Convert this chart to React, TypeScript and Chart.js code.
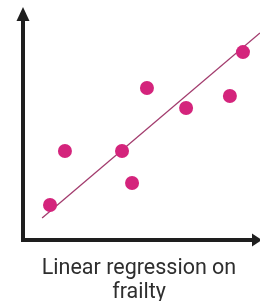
import React, { useEffect, useRef } from "react";
import { Chart, registerables } from "chart.js";

Chart.register(...registerables);

// Observations (frailty score vs outcome)
const xValues = [1.16, 1.8, 4.25, 4.68, 5.32, 7.0, 8.88, 9.44];
const yValues = [1.52, 3.87, 3.87, 2.48, 6.61, 5.74, 6.26, 8.17];

// Fitted regression line end points
const fitX = [0.82, 10.17];
const fitY = [0.96, 9.0];

const titleLines = ["Linear regression on", "frailty"];

const axisColor = "#1e1e1e";
const pointColor = "#d4247c";
const lineColor = "#a23b6d";

const axesPlugin = {
  id: "arrowAxes",
  beforeDatasetsDraw(chart: any) {
    const { ctx } = chart;
    const xs = chart.scales.x;
    const ys = chart.scales.y;
    const x0 = xs.getPixelForValue(xs.min);
    const x1 = xs.getPixelForValue(xs.max);
    const y0 = ys.getPixelForValue(ys.min);
    const y1 = ys.getPixelForValue(ys.max);
    ctx.save();
    ctx.strokeStyle = axisColor;
    ctx.fillStyle = axisColor;
    ctx.lineWidth = 4;
    ctx.lineCap = "butt";
    // y axis
    ctx.beginPath();
    ctx.moveTo(x0, y0 + 2);
    ctx.lineTo(x0, y1 + 10);
    ctx.stroke();
    // x axis
    ctx.beginPath();
    ctx.moveTo(x0 - 2, y0);
    ctx.lineTo(x1 - 2, y0);
    ctx.stroke();
    // y arrow head
    ctx.beginPath();
    ctx.moveTo(x0, y1 - 3);
    ctx.lineTo(x0 - 6.5, y1 + 11);
    ctx.lineTo(x0 + 6.5, y1 + 11);
    ctx.closePath();
    ctx.fill();
    // x arrow head
    ctx.beginPath();
    ctx.moveTo(x1 + 6, y0);
    ctx.lineTo(x1 - 4, y0 - 6.5);
    ctx.lineTo(x1 - 4, y0 + 6.5);
    ctx.closePath();
    ctx.fill();
    ctx.restore();
  },
  afterDraw(chart: any) {
    const { ctx } = chart;
    ctx.save();
    ctx.fillStyle = "#2e2e2e";
    ctx.font = "21.5px Roboto";
    ctx.textAlign = "center";
    ctx.textBaseline = "alphabetic";
    ctx.fillText(titleLines[0], 139, 274);
    ctx.fillText(titleLines[1], 139, 297.5);
    ctx.restore();
  },
};

export default function App() {
  const ref = useRef<HTMLCanvasElement | null>(null);
  useEffect(() => {
    if (!ref.current) return;
    const chart = new Chart(ref.current, {
      type: "scatter",
      data: {
        datasets: [
          {
            label: "Observations",
            data: xValues.map((x, i) => ({ x, y: yValues[i] })),
            backgroundColor: pointColor,
            borderWidth: 0,
            pointRadius: 7,
            pointHoverRadius: 7,
          },
          {
            label: "Fit",
            data: fitX.map((x, i) => ({ x, y: fitY[i] })),
            showLine: true,
            borderColor: lineColor,
            borderWidth: 1.3,
            pointRadius: 0,
            clip: false as any,
          } as any,
        ],
      },
      options: {
        animation: false,
        responsive: false,
        layout: { autoPadding: false, padding: { left: 23, right: 4, top: 10, bottom: 61 } },
        scales: {
          x: { type: "linear", min: 0, max: 10, display: false },
          y: { type: "linear", min: 0, max: 10, display: false },
        },
        plugins: {
          legend: { display: false },
          tooltip: { enabled: false },
          title: { display: false },
        },
      },
      plugins: [axesPlugin],
    });
    return () => chart.destroy();
  }, []);
  return (
    <div style={{ position: "absolute", left: 0, top: 0, width: 260, height: 301, background: "#fff" }}>
      <canvas ref={ref} width={260} height={301} style={{ display: "block" }} />
    </div>
  );
}
